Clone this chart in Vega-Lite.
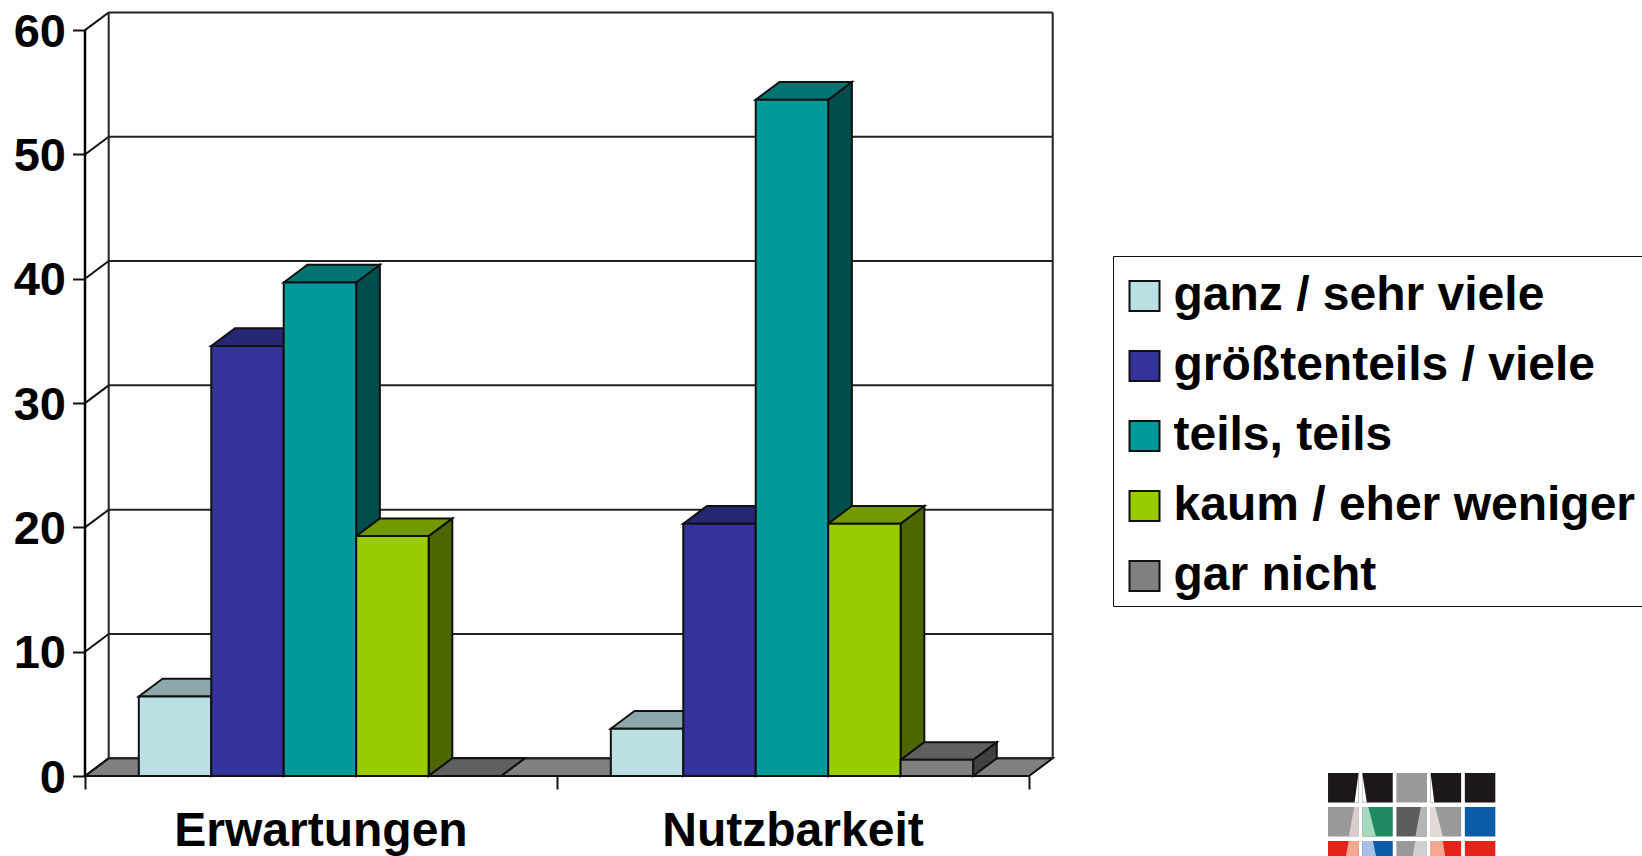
{"$schema":"https://vega.github.io/schema/vega-lite/v6.json","width":968,"height":764,"autosize":{"type":"none"},"padding":{"left":85,"top":12,"right":589,"bottom":80},"background":"white",
"config":{"view":{"stroke":null},"font":"Liberation Sans","axis":{"grid":false,"labelFont":"Liberation Sans","labelFontWeight":"bold","labelFontSize":47,"labelColor":"black","tickColor":"#111","tickWidth":2,"domain":false}},
"datasets":{"answers":[
{"category":"Erwartungen","series":"ganz / sehr viele","value":6.4},
{"category":"Erwartungen","series":"größtenteils / viele","value":34.6},
{"category":"Erwartungen","series":"teils, teils","value":39.7},
{"category":"Erwartungen","series":"kaum / eher weniger","value":19.3},
{"category":"Erwartungen","series":"gar nicht","value":0},
{"category":"Nutzbarkeit","series":"ganz / sehr viele","value":3.8},
{"category":"Nutzbarkeit","series":"größtenteils / viele","value":20.3},
{"category":"Nutzbarkeit","series":"teils, teils","value":54.4},
{"category":"Nutzbarkeit","series":"kaum / eher weniger","value":20.3},
{"category":"Nutzbarkeit","series":"gar nicht","value":1.3}],
"ticks":[{"tick":0},{"tick":10},{"tick":20},{"tick":30},{"tick":40},{"tick":50},{"tick":60}],
"edges":[{"edge":0},{"edge":2}],
"cells":[{"c":0,"r":0,"tone":"black"},{"c":1,"r":0,"tone":"black"},{"c":2,"r":0,"tone":"grey"},{"c":3,"r":0,"tone":"black"},{"c":4,"r":0,"tone":"black"},
{"c":0,"r":1,"tone":"grey"},{"c":1,"r":1,"tone":"green"},{"c":2,"r":1,"tone":"dark"},{"c":3,"r":1,"tone":"grey"},{"c":4,"r":1,"tone":"blue"},
{"c":0,"r":2,"tone":"red"},{"c":1,"r":2,"tone":"blue"},{"c":2,"r":2,"tone":"grey"},{"c":3,"r":2,"tone":"red"},{"c":4,"r":2,"tone":"red"}],
"wedges":[{"c":0,"r":0,"side":"r","f0":1.0,"f1":0.87,"tone":"white"},{"c":1,"r":0,"side":"l","f0":0.0,"f1":0.15,"tone":"white"},{"c":3,"r":0,"side":"l","f0":0.0,"f1":0.12,"tone":"white"},
{"c":0,"r":1,"side":"r","f0":0.86,"f1":0.68,"tone":"pinkgrey"},{"c":1,"r":1,"side":"l","f0":0.2,"f1":0.45,"tone":"mint"},{"c":2,"r":1,"side":"r","f0":0.8,"f1":0.62,"tone":"midgrey"},{"c":3,"r":1,"side":"l","f0":0.15,"f1":0.4,"tone":"cream"},
{"c":0,"r":2,"side":"r","f0":0.68,"f1":0.5,"tone":"salmon"},{"c":1,"r":2,"side":"l","f0":0.35,"f1":0.55,"tone":"skyblue"},{"c":2,"r":2,"side":"r","f0":0.62,"f1":0.45,"tone":"palegrey"},{"c":3,"r":2,"side":"l","f0":0.4,"f1":0.55,"tone":"salmon"}]},
"resolve":{"scale":{"fill":"independent"},"axis":{"x":"independent","y":"independent"}},
"layer":[
{"data":{"name":"ticks"},"transform":[{"filter":"datum.tick==0"},{"calculate":"[0,1]","as":"t"},{"flatten":["t"]},{"calculate":"datum.t*1.424","as":"yy"},{"calculate":"datum.t*0.0502","as":"xa"},{"calculate":"2+datum.t*0.0502","as":"xb"}],
"mark":{"type":"area","orient":"horizontal","fill":"#808080","stroke":"#111","strokeWidth":2},
"encoding":{"y":{"field":"yy","type":"quantitative","scale":{"domain":[0,61.46],"nice":false,"zero":false},"axis":null},"x":{"field":"xa","type":"quantitative","scale":{"domain":[0,2.0508],"nice":false,"zero":false},"axis":{"values":[0,1,2],"labels":false,"tickSize":13,"title":null}},"x2":{"field":"xb"}}},
{"data":{"name":"ticks"},"transform":[{"calculate":"datum.tick+1.424","as":"gy"}],
"mark":{"type":"rule","stroke":"#222","strokeWidth":2},
"encoding":{"y":{"field":"gy","type":"quantitative","scale":{"domain":[0,61.46],"nice":false,"zero":false},"axis":null},"x":{"datum":0.0502,"type":"quantitative","scale":{"domain":[0,2.0508],"nice":false,"zero":false},"axis":null},"x2":{"datum":2.0502}}},
{"data":{"name":"ticks"},"transform":[{"calculate":"[0,1]","as":"t"},{"flatten":["t"]},{"calculate":"datum.tick+datum.t*1.424","as":"gy"},{"calculate":"datum.t*0.0502","as":"gx"}],
"mark":{"type":"line","stroke":"#111","strokeWidth":2},
"encoding":{"detail":{"field":"tick"},"y":{"field":"gy","type":"quantitative","scale":{"domain":[0,61.46],"nice":false,"zero":false},"axis":{"values":[0,10,20,30,40,50,60],"tickSize":12.5,"labelPadding":7,"labelOffset":2,"title":null}},"x":{"field":"gx","type":"quantitative","scale":{"domain":[0,2.0508],"nice":false,"zero":false},"axis":null}}},
{"data":{"name":"edges"},"transform":[{"calculate":"datum.edge+0.0502","as":"ex"}],
"mark":{"type":"rule","stroke":"#222","strokeWidth":2},
"encoding":{"x":{"field":"ex","type":"quantitative","scale":{"domain":[0,2.0508],"nice":false,"zero":false},"axis":null},"y":{"datum":1.424,"type":"quantitative","scale":{"domain":[0,61.46],"nice":false,"zero":false},"axis":null},"y2":{"datum":61.424}}},
{"data":{"name":"edges"},"transform":[{"filter":"datum.edge==0"}],
"mark":{"type":"rule","stroke":"black","strokeWidth":2.5},
"encoding":{"x":{"field":"edge","type":"quantitative","scale":{"domain":[0,2.0508],"nice":false,"zero":false},"axis":null},"y":{"datum":0,"type":"quantitative","scale":{"domain":[0,61.46],"nice":false,"zero":false},"axis":null},"y2":{"datum":60}}},
{"data":{"name":"answers"},"transform":[{"calculate":"indexof(['ganz / sehr viele','größtenteils / viele','teils, teils','kaum / eher weniger','gar nicht'],datum.series)","as":"i"},{"calculate":"indexof(['Erwartungen','Nutzbarkeit'],datum.category)+0.114+datum.i*0.1535+0.1535","as":"x1"},{"calculate":"datum.category+datum.series","as":"key"},{"calculate":"[0,1]","as":"t"},{"flatten":["t"]},{"calculate":"datum.x1+datum.t*0.0502","as":"sx"},{"calculate":"datum.value+datum.t*1.424","as":"sy"},{"calculate":"datum.t*1.424","as":"sy0"}],
"mark":{"type":"area","orient":"vertical","stroke":"#111","strokeWidth":2},
"encoding":{"detail":{"field":"key"},"x":{"field":"sx","type":"quantitative","scale":{"domain":[0,2.0508],"nice":false,"zero":false},"axis":null},"y":{"field":"sy","type":"quantitative","scale":{"domain":[0,61.46],"nice":false,"zero":false},"axis":null},"y2":{"field":"sy0"},"fill":{"field":"series","type":"nominal","legend":null,"scale":{"domain":["ganz / sehr viele","größtenteils / viele","teils, teils","kaum / eher weniger","gar nicht"],"range":["#5E7072","#1A1A4D","#004D4D","#4D6600","#404040"]}}}},
{"data":{"name":"answers"},"transform":[{"calculate":"indexof(['ganz / sehr viele','größtenteils / viele','teils, teils','kaum / eher weniger','gar nicht'],datum.series)","as":"i"},{"calculate":"indexof(['Erwartungen','Nutzbarkeit'],datum.category)+0.114+datum.i*0.1535","as":"x0"},{"calculate":"datum.category+datum.series","as":"key"},{"calculate":"[0,1]","as":"t"},{"flatten":["t"]},{"calculate":"datum.x0+datum.t*0.0502","as":"ta"},{"calculate":"datum.x0+0.1535+datum.t*0.0502","as":"tb"},{"calculate":"datum.value+datum.t*1.424","as":"ty"}],
"mark":{"type":"area","orient":"horizontal","stroke":"#111","strokeWidth":2},
"encoding":{"detail":{"field":"key"},"y":{"field":"ty","type":"quantitative","scale":{"domain":[0,61.46],"nice":false,"zero":false},"axis":null},"x":{"field":"ta","type":"quantitative","scale":{"domain":[0,2.0508],"nice":false,"zero":false},"axis":null},"x2":{"field":"tb"},"fill":{"field":"series","type":"nominal","legend":null,"scale":{"domain":["ganz / sehr viele","größtenteils / viele","teils, teils","kaum / eher weniger","gar nicht"],"range":["#8CA8AA","#262673","#007373","#739900","#606060"]}}}},
{"data":{"name":"answers"},"transform":[{"calculate":"indexof(['ganz / sehr viele','größtenteils / viele','teils, teils','kaum / eher weniger','gar nicht'],datum.series)","as":"i"},{"calculate":"indexof(['Erwartungen','Nutzbarkeit'],datum.category)+0.114+datum.i*0.1535","as":"x0"},{"calculate":"datum.x0+0.1535","as":"x1"}],
"mark":{"type":"rect","stroke":"#111","strokeWidth":2},
"encoding":{"x":{"field":"x0","type":"quantitative","scale":{"domain":[0,2.0508],"nice":false,"zero":false},"axis":null},"x2":{"field":"x1"},"y":{"field":"value","type":"quantitative","scale":{"domain":[0,61.46],"nice":false,"zero":false},"axis":null},"y2":{"datum":0},"fill":{"field":"series","type":"nominal","scale":{"domain":["ganz / sehr viele","größtenteils / viele","teils, teils","kaum / eher weniger","gar nicht"],"range":["#BBE0E3","#333399","#009999","#99CC00","#808080"]},"legend":{"orient":"none","legendX":1028,"legendY":244,"title":" ","titleFontSize":10,"titlePadding":0,"symbolType":"square","symbolSize":900,"symbolStrokeColor":"#111","symbolStrokeWidth":2,"symbolOffset":1.5,"labelFont":"Liberation Sans","labelFontWeight":"bold","labelFontSize":48,"labelColor":"black","labelOffset":5,"rowPadding":22,"padding":6,"strokeColor":"#111","fillColor":"white","labelLimit":700,"encoding":{"labels":{"update":{"dy":{"value":3}}}}}}}},
{"data":{"name":"answers"},"transform":[{"aggregate":[{"op":"count","as":"n"}],"groupby":["category"]},{"calculate":"indexof(['Erwartungen','Nutzbarkeit'],datum.category)+0.5","as":"pos"}],
"mark":{"type":"text","font":"Liberation Sans","fontWeight":"bold","fontSize":48,"color":"black","baseline":"alphabetic","align":"center","dy":70},
"encoding":{"text":{"field":"category"},"x":{"field":"pos","type":"quantitative","scale":{"domain":[0,2.0508],"nice":false,"zero":false},"axis":null},"y":{"datum":0,"type":"quantitative","scale":{"domain":[0,61.46],"nice":false,"zero":false},"axis":null}}},
{"data":{"name":"cells"},"transform":[{"calculate":"(1243+34.2*datum.c)/472","as":"lx0"},{"calculate":"datum.lx0+30.5/472","as":"lx1"},{"calculate":"(3-34*datum.r)/12.43","as":"ly0"},{"calculate":"datum.ly0-29.5/12.43","as":"ly1"}],
"mark":{"type":"rect"},
"encoding":{"x":{"field":"lx0","type":"quantitative","scale":{"domain":[0,2.0508],"nice":false,"zero":false},"axis":null},"x2":{"field":"lx1"},"y":{"field":"ly0","type":"quantitative","scale":{"domain":[0,61.46],"nice":false,"zero":false},"axis":null},"y2":{"field":"ly1"},"fill":{"field":"tone","type":"nominal","legend":null,"scale":{"domain":["black","grey","green","dark","blue","red"],"range":["#1C1818","#999999","#1F8A60","#5F5C5C","#0A5BA8","#E5231B"]}}}},
{"data":{"name":"wedges"},"transform":[{"calculate":"datum.c+'-'+datum.r","as":"key"},{"calculate":"[0,1]","as":"t"},{"flatten":["t"]},{"calculate":"datum.f0+(datum.f1-datum.f0)*datum.t","as":"f"},{"calculate":"(1243+34.2*datum.c+30.5*(datum.side=='r'?datum.f:0))/472","as":"wa"},{"calculate":"(1243+34.2*datum.c+30.5*(datum.side=='r'?1:datum.f))/472","as":"wb"},{"calculate":"(3-34*datum.r-29.5*datum.t)/12.43","as":"wy"}],
"mark":{"type":"area","orient":"horizontal"},
"encoding":{"detail":{"field":"key"},"x":{"field":"wa","type":"quantitative","scale":{"domain":[0,2.0508],"nice":false,"zero":false},"axis":null},"x2":{"field":"wb"},"y":{"field":"wy","type":"quantitative","scale":{"domain":[0,61.46],"nice":false,"zero":false},"axis":null},"fill":{"field":"tone","type":"nominal","legend":null,"scale":{"domain":["white","pinkgrey","mint","midgrey","cream","salmon","skyblue","palegrey"],"range":["#FFFFFF","#D8CCCC","#A8D8C0","#B5B5B5","#E3DAD5","#F5A890","#A8C0E5","#D0D0D0"]}}}}
]}
